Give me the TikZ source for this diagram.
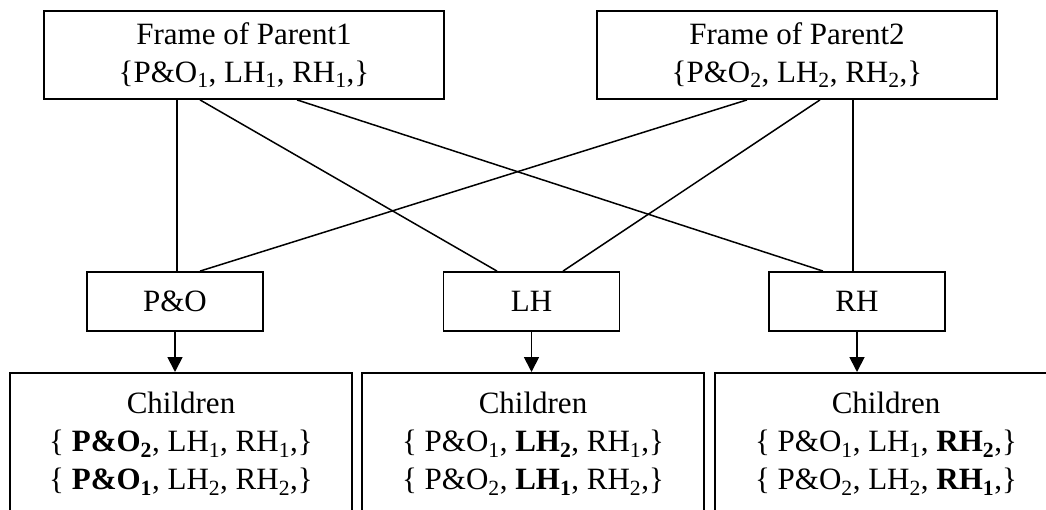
\documentclass[tikz,border=0pt]{standalone}
\usepackage{fontspec}
\setmainfont{Liberation Serif}
\usetikzlibrary{arrows.meta}
\newcommand\mainsz{\fontsize{31}{38}\selectfont}
\begin{document}
\begin{tikzpicture}[x=1pt,y=-1pt,
  box/.style={draw, line width=1.8pt, inner sep=0pt, align=center, font=\mainsz},
  link/.style={line width=1.5pt},
  arr/.style={line width=1.8pt, -{Triangle[length=15pt,width=15pt]}}]
\useasboundingbox (0,0) rectangle (1046,510);
\clip (0,0) rectangle (1046,510);
% parents
\node[box, minimum width=400pt, minimum height=88pt] (p1) at (244,55)
  {Frame of Parent1\\\{P\&O\textsubscript{1}, LH\textsubscript{1}, RH\textsubscript{1},\}};
\node[box, minimum width=400pt, minimum height=88pt] (p2) at (797,55)
  {Frame of Parent2\\\{P\&O\textsubscript{2}, LH\textsubscript{2}, RH\textsubscript{2},\}};
% middle
\node[box, minimum width=176pt, minimum height=59pt] (po) at (175,301.5) {P\&O};
\node[box, minimum width=176pt, minimum height=59pt] (lh) at (531.5,301.5) {LH};
\node[box, minimum width=176pt, minimum height=59pt] (rh) at (857,301.5) {RH};
% children
\node[box, anchor=north, minimum width=342pt, minimum height=142pt] (c1) at (181,372)
  {Children\\\{ \textbf{P\&O\textsubscript{2}}, LH\textsubscript{1}, RH\textsubscript{1},\}\\\{ \textbf{P\&O\textsubscript{1}}, LH\textsubscript{2}, RH\textsubscript{2},\}};
\node[box, anchor=north, minimum width=342pt, minimum height=142pt] (c2) at (533,372)
  {Children\\\{ P\&O\textsubscript{1}, \textbf{LH\textsubscript{2}}, RH\textsubscript{1},\}\\\{ P\&O\textsubscript{2}, \textbf{LH\textsubscript{1}}, RH\textsubscript{2},\}};
\node[box, anchor=north, minimum width=342pt, minimum height=142pt] (c3) at (886,372)
  {Children\\\{ P\&O\textsubscript{1}, LH\textsubscript{1}, \textbf{RH\textsubscript{2}},\}\\\{ P\&O\textsubscript{2}, LH\textsubscript{2}, \textbf{RH\textsubscript{1}},\}};
% links
\draw[link] ([xshift=-67pt]p1.south) -- ([xshift=2pt]po.north);
\draw[link] ([xshift=-44pt]p1.south) -- ([xshift=-34.5pt]lh.north);
\draw[link] ([xshift=53pt]p1.south) -- ([xshift=-34pt]rh.north);
\draw[link] ([xshift=-50pt]p2.south) -- ([xshift=25pt]po.north);
\draw[link] ([xshift=23pt]p2.south) -- ([xshift=31.5pt]lh.north);
\draw[link] ([xshift=56pt]p2.south) -- ([xshift=-4pt]rh.north);
% arrows
\draw[arr] (po.south) -- (po.south |- c1.north);
\draw[arr] (lh.south) -- (lh.south |- c2.north);
\draw[arr] (rh.south) -- (rh.south |- c3.north);
\end{tikzpicture}
\end{document}
